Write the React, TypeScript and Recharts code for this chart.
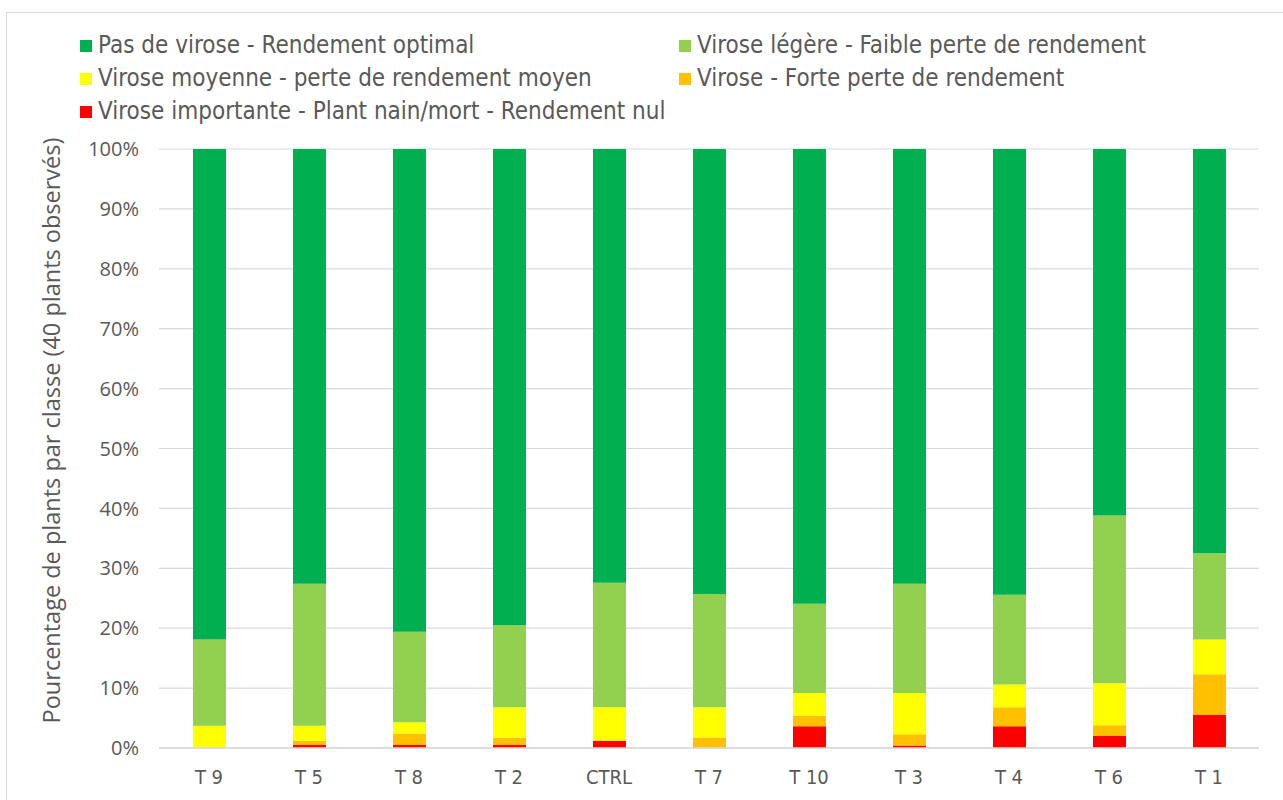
import { Bar, BarChart, CartesianGrid, XAxis, YAxis } from "recharts";

const treatments = ["T 9", "T 5", "T 8", "T 2", "CTRL", "T 7", "T 10", "T 3", "T 4", "T 6", "T 1"];

// percentages per class, bottom of stack first
const nul = [0, 0.5, 0.5, 0.5, 1.2, 0, 3.65, 0.4, 3.65, 2.0, 5.5];
const forte = [0, 0.7, 1.9, 1.2, 0, 1.75, 1.75, 1.9, 3.15, 1.8, 6.8];
const moyenne = [3.7, 2.5, 1.9, 5.1, 5.6, 5.05, 3.8, 6.9, 3.8, 7.0, 5.8];
const legere = [14.4, 23.7, 15.1, 13.7, 20.8, 18.9, 14.9, 18.2, 15.0, 28.0, 14.4];
const optimal = [81.9, 72.6, 80.6, 79.5, 72.4, 74.3, 75.9, 72.6, 74.4, 61.2, 67.5];

const yTicks = [0, 10, 20, 30, 40, 50, 60, 70, 80, 90, 100];

const series = [
  { key: "nul", name: "Virose importante - Plant nain/mort - Rendement nul", color: "#FF0000" },
  { key: "forte", name: "Virose - Forte perte de rendement", color: "#FFC000" },
  { key: "moyenne", name: "Virose moyenne - perte de rendement moyen", color: "#FFFF00" },
  { key: "legere", name: "Virose légère - Faible perte de rendement", color: "#92D050" },
  { key: "optimal", name: "Pas de virose - Rendement optimal", color: "#00B050" },
];

const data = treatments.map((t, i) => ({
  name: t,
  nul: nul[i],
  forte: forte[i],
  moyenne: moyenne[i],
  legere: legere[i],
  optimal: optimal[i],
}));

const legendFont = "'DejaVu Sans Condensed', 'DejaVu Sans', sans-serif";
const axisFont = "'Open Sans', 'Noto Sans', sans-serif";

function LegendBox() {
  const order = [...series].reverse();
  return (
    <div
      style={{
        position: "absolute",
        left: 80,
        top: 31,
        display: "grid",
        gridTemplateColumns: "599px 560px",
        rowGap: 4,
        fontFamily: legendFont,
        fontSize: 24,
        color: "#595959",
        lineHeight: "29px",
      }}
    >
      {order.map((s) => (
        <div key={s.key} style={{ display: "flex", alignItems: "center", whiteSpace: "nowrap" }}>
          <span
            style={{ display: "inline-block", width: 12, height: 12, background: s.color, marginRight: 6 }}
          />
          {s.name}
        </div>
      ))}
    </div>
  );
}

export default function App() {
  return (
    <div style={{ position: "absolute", left: 0, top: 0, width: 1283, height: 800, background: "#fff", overflow: "hidden" }}>
      <div
        style={{
          position: "absolute",
          left: 6,
          top: 12,
          width: 1290,
          height: 800,
          border: "1px solid #d9d9d9",
          boxSizing: "border-box",
        }}
      />
      <BarChart
        width={1283}
        height={800}
        data={data}
        margin={{ top: 149, right: 24, bottom: 22, left: 59 }}
        barSize={33}
        style={{ position: "absolute", left: 0, top: 0 }}
      >
        <CartesianGrid vertical={false} stroke="#d9d9d9" strokeWidth={1.2} />
        <XAxis
          dataKey="name"
          height={30}
          tickLine={false}
          axisLine={{ stroke: "#d9d9d9", strokeWidth: 1.5 }}
          tick={{ fill: "#595959", fontSize: 20, fontFamily: legendFont }}
          tickMargin={16}
          interval={0}
        />
        <YAxis
          domain={[0, 100]}
          ticks={yTicks}
          allowDataOverflow
          tickFormatter={(v: number) => `${v}%`}
          tickLine={false}
          axisLine={false}
          width={100}
          tickMargin={14}
          tick={{ fill: "#595959", fontSize: 20, fontFamily: axisFont }}
          label={{
            value: "Pourcentage de plants par classe (40 plants observés)",
            angle: -90,
            position: "insideLeft",
            dx: -12,
            dy: -18,
            style: { textAnchor: "middle", fill: "#595959", fontSize: 23.5, fontFamily: axisFont },
          }}
        />
        {series.map((s) => (
          <Bar key={s.key} dataKey={s.key} name={s.name} stackId="a" fill={s.color} isAnimationActive={false} />
        ))}
      </BarChart>
      <LegendBox />
    </div>
  );
}
